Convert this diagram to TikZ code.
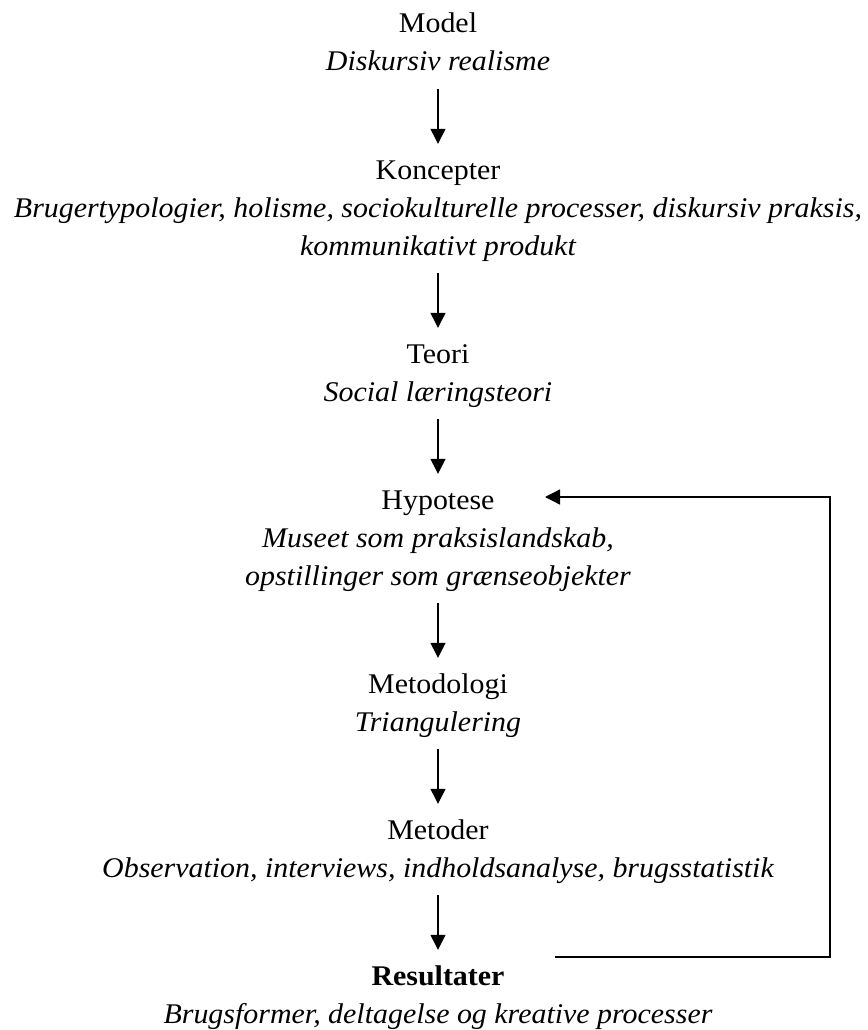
\documentclass[tikz,border=0pt]{standalone}
\usepackage{fontspec}
\setmainfont{Liberation Serif}[FakeStretch=1.05]
\usetikzlibrary{arrows.meta}

\tikzset{
  line/.style={inner sep=0pt, anchor=base, text height=20pt, text depth=7pt,
               font=\fontsize{28.5}{38}\selectfont},
  title/.style={line},
  sub/.style={line, font=\fontsize{28.5}{38}\selectfont\itshape},
  arr/.style={line width=1.3pt, -{Triangle[width=15pt,length=15pt]}},
  flow/.style={arr, shorten <=11pt, shorten >=15pt},
}

\begin{document}
\begin{tikzpicture}[x=1pt, y=-1pt]
  \useasboundingbox (0,0) rectangle (867,1030);

  % blocks of the chain, one node per printed line
  \node[title] (model) at (438,33)  {Model};
  \node[sub]   (modeld) at (438,71) {Diskursiv realisme};

  \node[title] (konc) at (438,179)  {Koncepter};
  \node[sub]   (konca) at (438,217) {Brugertypologier, holisme, sociokulturelle processer, diskursiv praksis,};
  \node[sub]   (koncb) at (438,255) {kommunikativt produkt};

  \node[title] (teori) at (438,363)  {Teori};
  \node[sub]   (teorid) at (438,401) {Social læringsteori};

  \node[title] (hyp) at (438,509)  {Hypotese};
  \node[sub]   (hypa) at (438,547) {Museet som praksislandskab,};
  \node[sub]   (hypb) at (438,585) {opstillinger som grænseobjekter};

  \node[title] (metl) at (438,693)  {Metodologi};
  \node[sub]   (metld) at (438,731) {Triangulering};

  \node[title] (meto) at (438,839)  {Metoder};
  \node[sub]   (metod) at (438,877) {Observation, interviews, indholdsanalyse, brugsstatistik};

  \node[title, font=\fontsize{28.5}{38}\selectfont\bfseries] (res) at (438,985) {Resultater};
  \node[sub]   (resd) at (438,1023) {Brugsformer, deltagelse og kreative processer};

  % downward arrows between blocks
  \draw[flow] (modeld) -- (konc);
  \draw[flow] (koncb) -- (teori);
  \draw[flow] (teorid) -- (hyp);
  \draw[flow] (hypb) -- (metl);
  \draw[flow] (metld) -- (meto);
  \draw[flow] (metod) -- (res);

  % feedback loop from the results back to the hypothesis
  \coordinate (fbstart) at (555,957);
  \coordinate (fbturn) at (830,957);
  \coordinate (fbend) at (545,497);
  \draw[arr] (fbstart) -- (fbturn) |- (fbend);
\end{tikzpicture}
\end{document}
